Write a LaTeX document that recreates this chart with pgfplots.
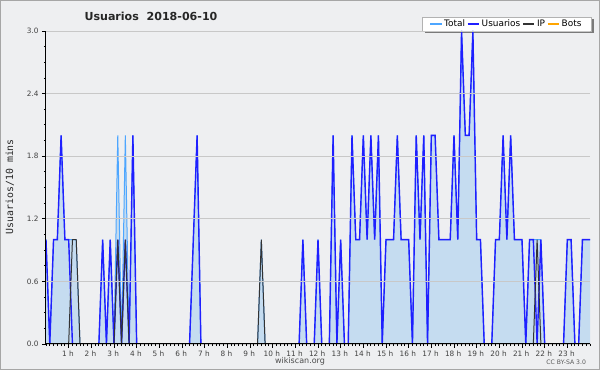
\documentclass[border=0pt]{standalone}
\usepackage{pgfplots}
\usepackage{pgfplotstable}
\pgfplotsset{compat=1.18}
\usepackage{fontspec}
\setmainfont{DejaVu Sans}
\newfontfamily\monofont{DejaVu Sans Mono}
\definecolor{bg}{HTML}{EEEFF1}
\definecolor{gridc}{HTML}{C8C8C8}
\definecolor{fillc}{HTML}{C5DCF0}
\definecolor{totalc}{HTML}{4DA6FF}
\definecolor{userc}{HTML}{1F1FFF}
\definecolor{ipc}{HTML}{333333}
\definecolor{botc}{HTML}{FFA500}
\pgfplotstableread{
i T U IP B
0 1 1 0 0
1 0 0 0 0
2 1 1 0 0
3 1 1 0 0
4 2 2 0 0
5 1 1 0 0
6 1 1 0 0
7 1 0 1 0
8 1 0 1 0
9 0 0 0 0
10 0 0 0 0
11 0 0 0 0
12 0 0 0 0
13 0 0 0 0
14 0 0 0 0
15 1 1 0 0
16 0 0 0 0
17 1 1 0 0
18 0 0 0 0
19 2 1 1 0
20 0 0 0 0
21 2 1 1 0
22 0 0 0 0
23 2 2 0 0
24 0 0 0 0
25 0 0 0 0
26 0 0 0 0
27 0 0 0 0
28 0 0 0 0
29 0 0 0 0
30 0 0 0 0
31 0 0 0 0
32 0 0 0 0
33 0 0 0 0
34 0 0 0 0
35 0 0 0 0
36 0 0 0 0
37 0 0 0 0
38 0 0 0 0
39 1 1 0 0
40 2 2 0 0
41 0 0 0 0
42 0 0 0 0
43 0 0 0 0
44 0 0 0 0
45 0 0 0 0
46 0 0 0 0
47 0 0 0 0
48 0 0 0 0
49 0 0 0 0
50 0 0 0 0
51 0 0 0 0
52 0 0 0 0
53 0 0 0 0
54 0 0 0 0
55 0 0 0 0
56 0 0 0 0
57 1 0 1 0
58 0 0 0 0
59 0 0 0 0
60 0 0 0 0
61 0 0 0 0
62 0 0 0 0
63 0 0 0 0
64 0 0 0 0
65 0 0 0 0
66 0 0 0 0
67 0 0 0 0
68 1 1 0 0
69 0 0 0 0
70 0 0 0 0
71 0 0 0 0
72 1 1 0 0
73 0 0 0 0
74 0 0 0 0
75 0 0 0 0
76 2 2 0 0
77 0 0 0 0
78 1 1 0 0
79 0 0 0 0
80 0 0 0 0
81 2 2 0 0
82 1 1 0 0
83 1 1 0 0
84 2 2 0 0
85 1 1 0 0
86 2 2 0 0
87 1 1 0 0
88 2 2 0 0
89 0 0 0 0
90 1 1 0 0
91 1 1 0 0
92 1 1 0 0
93 2 2 0 0
94 1 1 0 0
95 1 1 0 0
96 1 1 0 0
97 0 0 0 0
98 2 2 0 0
99 1 1 0 0
100 2 2 0 0
101 0 0 0 0
102 2 2 0 0
103 2 2 0 0
104 1 1 0 0
105 1 1 0 0
106 1 1 0 0
107 1 1 0 0
108 2 2 0 0
109 1 1 0 0
110 3 3 0 0
111 2 2 0 0
112 2 2 0 0
113 3 3 0 0
114 1 1 0 0
115 1 1 0 0
116 0 0 0 0
117 0 0 0 0
118 0 0 0 0
119 1 1 0 0
120 1 1 0 0
121 2 2 0 0
122 1 1 0 0
123 2 2 0 0
124 1 1 0 0
125 1 1 0 0
126 1 1 0 0
127 0 0 0 0
128 1 1 0 0
129 1 1 0 0
130 1 0 1 0
131 1 1 0 0
132 0 0 0 0
133 0 0 0 0
134 0 0 0 0
135 0 0 0 0
136 0 0 0 0
137 0 0 0 0
138 1 1 0 0
139 1 1 0 0
140 0 0 0 0
141 0 0 0 0
142 1 1 0 0
143 1 1 0 0
144 1 1 0 0
}\data
\begin{document}
\begin{tikzpicture}
\fill[bg] (0,0) rectangle (450pt,277.5pt);
\draw[black!35, line width=0.8pt] (0.4pt,0.4pt) rectangle (449.6pt,277.1pt);
% legend frame and its shadow
\fill[black!52] (318.5pt,252.5pt) rectangle (445.2pt,263pt);
\filldraw[fill=white, draw=black!30, line width=0.6pt] (316.5pt,254.25pt) rectangle (443.25pt,264.75pt);
\begin{axis}[
  at={(34.5pt,19.5pt)}, anchor=south west,
  scale only axis, width=408pt, height=234.75pt,
  xmin=0, xmax=144, ymin=0, ymax=3,
  axis x line*=bottom, axis y line*=left,
  axis line style={black, line width=0.75pt},
  axis on top,
  tick align=outside,
  major tick length=3pt, minor tick length=1.6pt,
  every tick/.style={black, line width=0.6pt},
  xtick={6,12,...,138},
  xticklabels={1 h,2 h,3 h,4 h,5 h,6 h,7 h,8 h,9 h,10 h,11 h,12 h,13 h,14 h,15 h,16 h,17 h,18 h,19 h,20 h,21 h,22 h,23 h},
  minor xtick={0,1,...,144},
  ytick={0,0.6,1.2,1.8,2.4,3.0},
  yticklabels={0.0,0.6,1.2,1.8,2.4,3.0},
  minor ytick={0.15,0.3,0.45,0.75,0.9,1.05,1.35,1.5,1.65,1.95,2.1,2.25,2.55,2.7,2.85},
  ymajorgrids,
  major grid style={gridc, line width=0.6pt},
  ticklabel style={font=\fontsize{5.5pt}{6pt}\selectfont, text=black!75},
  xticklabel style={yshift=1.5pt, xshift=-0.6pt},
  yticklabel style={xshift=1pt},
  legend style={at={(rel axis cs:0.8465,1.0224)}, anchor=center,
    legend columns=-1, draw=none, fill=none,
    font=\fontsize{6.7pt}{7pt}\selectfont, inner sep=0pt,
    nodes={inner xsep=1.5pt, inner ysep=0.5pt},
    /tikz/every even column/.append style={column sep=0pt}},
  legend image code/.code={\draw[#1, line width=1pt] (0pt,0pt) -- (8.5pt,0pt);},
]
\addplot[draw=none, fill=fillc, forget plot] table[x=i, y=T]{\data} \closedcycle;
\addplot[draw=totalc, line width=0.75pt] table[x=i, y=T]{\data};
\addlegendentry{Total}
\addplot[draw=userc, line width=1.05pt] table[x=i, y=U]{\data};
\addlegendentry{Usuarios}
\addplot[draw=ipc, line width=0.75pt] table[x=i, y=IP]{\data};
\addlegendentry{IP}
\addplot[draw=botc, line width=0.75pt] table[x=i, y=B]{\data};
\addlegendentry{Bots}
\end{axis}
\node[font=\bfseries\fontsize{8.3pt}{9pt}\selectfont, text=black!85] at (113.25pt,265pt) {Usuarios\ \ 2018-06-10};
\node[font=\monofont\fontsize{7.4pt}{8pt}\selectfont, text=black!85, rotate=90] at (7.4pt,137.5pt) {Usuarios/10 mins};
\node[font=\fontsize{6pt}{7pt}\selectfont, text=black!70] at (225pt,6.6pt) {wikiscan.org};
\node[font=\fontsize{4.6pt}{5pt}\selectfont, text=black!65, anchor=east] at (443pt,5.8pt) {CC BY-SA 3.0};
\end{tikzpicture}
\end{document}
